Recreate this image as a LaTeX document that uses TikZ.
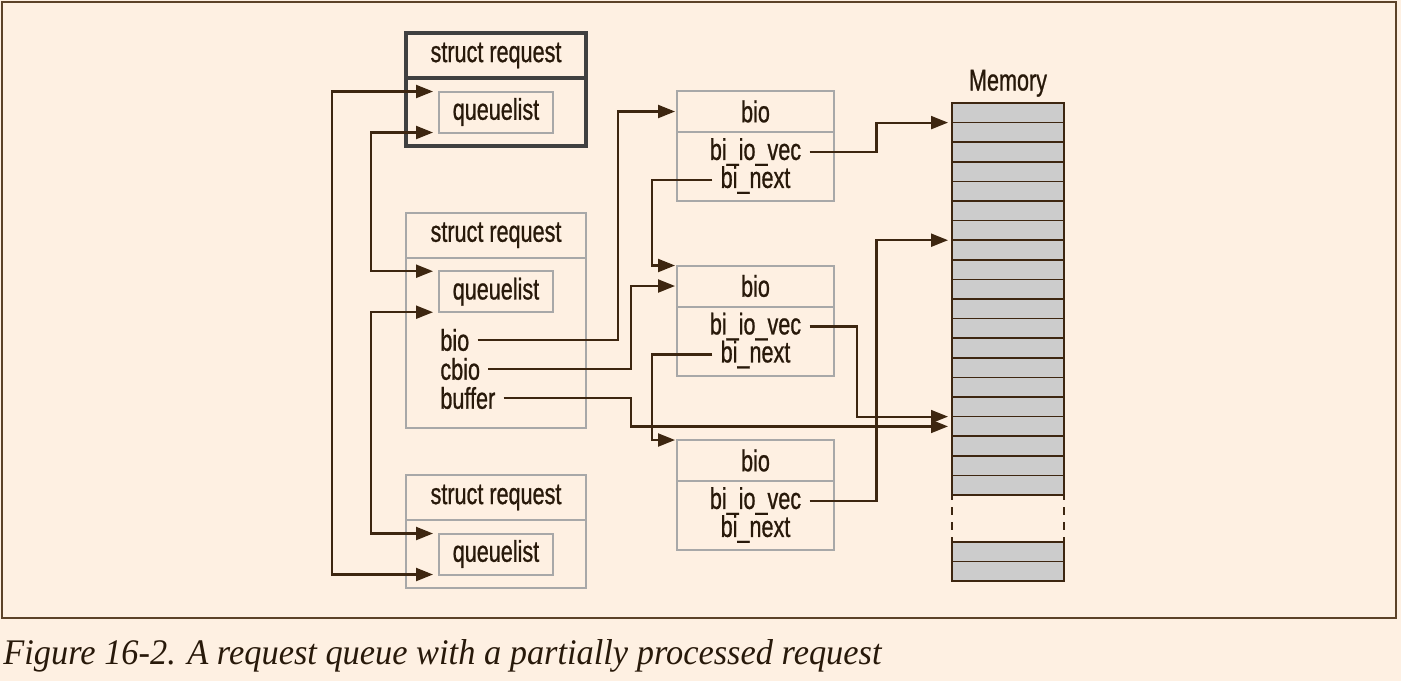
\documentclass[tikz,border=0pt]{standalone}
\usepackage{fontspec}
\setmainfont{Liberation Sans}[FakeStretch=0.72, FakeBold=0.8]
\newfontfamily\capfont{Liberation Serif}[FakeStretch=0.955]
\usetikzlibrary{arrows.meta}
\definecolor{paper}{RGB}{254,240,226}
\definecolor{ink}{RGB}{40,25,10}
\definecolor{wire}{RGB}{61,38,16}
\definecolor{framebrown}{RGB}{92,66,40}
\definecolor{boxgray}{RGB}{168,168,168}
\definecolor{darkbox}{RGB}{64,64,64}
\definecolor{memgray}{RGB}{204,204,204}
\tikzset{
	field/.style={text=ink, font=\fontsize{15}{17}\selectfont, inner xsep=4pt, inner ysep=1pt},
	fieldbox/.style={field, draw=boxgray, line width=1pt, outer sep=0pt, minimum width=57pt, minimum height=20.5pt},
	link/.style={draw=wire, line width=1.1pt, -{Triangle[length=8.5pt,width=6.5pt]}},
	dlink/.style={link, {Triangle[length=8.5pt,width=6.5pt]}-{Triangle[length=8.5pt,width=6.5pt]}},
	cell/.style={draw=wire, line width=0.8pt, fill=memgray, minimum width=56pt, minimum height=9.8pt, inner sep=0pt, outer sep=0pt},
}
\newcommand{\reqbox}[4]{
	\draw[#4] (406,#2) rectangle (586,#3);
	\draw[#4] (406,#2+45) -- (586,#2+45);
	\node[field] (#1) at (496,#2+22.5) {struct request};
	\node[fieldbox] (#1q) at (496,#2+79) {queuelist};
}
\newcommand{\biobox}[2]{
	\node[fieldbox, minimum width=78.5pt] (#1) at (755.5,#2+20.5) {bio};
	\draw[boxgray, line width=1pt] (#1.south west) rectangle ++(157,69);
	\node[field] (#1v) at (755.5,#2+61) {bi\_io\_vec};
	\node[field] (#1n) at (755.5,#2+89) {bi\_next};
}

\begin{document}
\begin{tikzpicture}[x=0.5pt,y=-0.5pt]

\fill[paper] (0,0) rectangle (1401,681);
\draw[framebrown, line width=1pt] (2,2) rectangle (1396,618);

\reqbox{r1}{33}{146}{darkbox, line width=2pt}
\reqbox{r2}{212.7}{427.7}{boxgray, line width=1pt}
\reqbox{r3}{475}{588.3}{boxgray, line width=1pt}
\node[field, anchor=west] (bio) at (432,340) {bio};
\node[field, anchor=west] (cbio) at (432,369) {cbio};
\node[field, anchor=west] (buffer) at (432,398) {buffer};

\biobox{bio1}{91}
\biobox{bio2}{265.5}
\biobox{bio3}{440}

\node[field, anchor=base] (memory) at (1008,90.5) {Memory};
\foreach \i in {0,...,19}
	\node[cell] (m\i) at (1008,112.8+19.6*\i) {};
\node[cell] (mx0) at (1008,551.8) {};
\node[cell] (mx1) at (1008,571.4) {};
\draw[wire, line width=0.8pt, dash pattern=on 4pt off 3.5pt, dash phase=1.5pt] (m19.south west) -- (mx0.north west);
\draw[wire, line width=0.8pt, dash pattern=on 4pt off 3.5pt, dash phase=1.5pt] (m19.south east) -- (mx0.north east);

\coordinate (ja) at (618,0);
\coordinate (jb) at (631,0);
\coordinate (jc) at (652,0);
\coordinate (jd) at (857,0);
\coordinate (je) at (876.5,0);

\draw[dlink] ([xshift=-3pt]r1q.north west) -- ++(-101,0) |- ([xshift=-3pt]r3q.south west);
\draw[dlink] ([xshift=-3pt]r1q.south west) -- ++(-62,0) |- ([xshift=-3pt]r2q.north west);
\draw[dlink] ([xshift=-3pt]r2q.south west) -- ++(-62,0) |- ([xshift=-3pt]r3q.north west);

\draw[link] (bio.east) -- (bio.east -| ja) |- ([xshift=-1pt]bio1.west);
\draw[link] (cbio.east) -- (cbio.east -| jb) |- ([xshift=-1pt]bio2.west);
\draw[link] (buffer.east) -- (buffer.east -| jb) |- ([xshift=-2pt]m16.west);
\draw[link] (bio1n.west) -- (bio1n.west -| jc) |- ([xshift=-1pt]bio2.north west);
\draw[link] (bio2n.west) -- (bio2n.west -| jc) |- ([xshift=-1pt]bio3.north west);
\draw[link] (bio1v.east) -- (bio1v.east -| je) |- ([xshift=-2pt]m0.south west);
\draw[link] (bio2v.east) -- (bio2v.east -| jd) |- ([xshift=-2pt]m15.south west);
\draw[link] (bio3v.east) -- (bio3v.east -| je) |- ([xshift=-2pt]m6.south west);

\node[anchor=base west, inner sep=0pt, text=ink, font=\capfont\itshape\fontsize{18}{20}\selectfont] (caption) at (3,664) {Figure 16-2. A request queue with a partially processed request};

\end{tikzpicture}
\end{document}
